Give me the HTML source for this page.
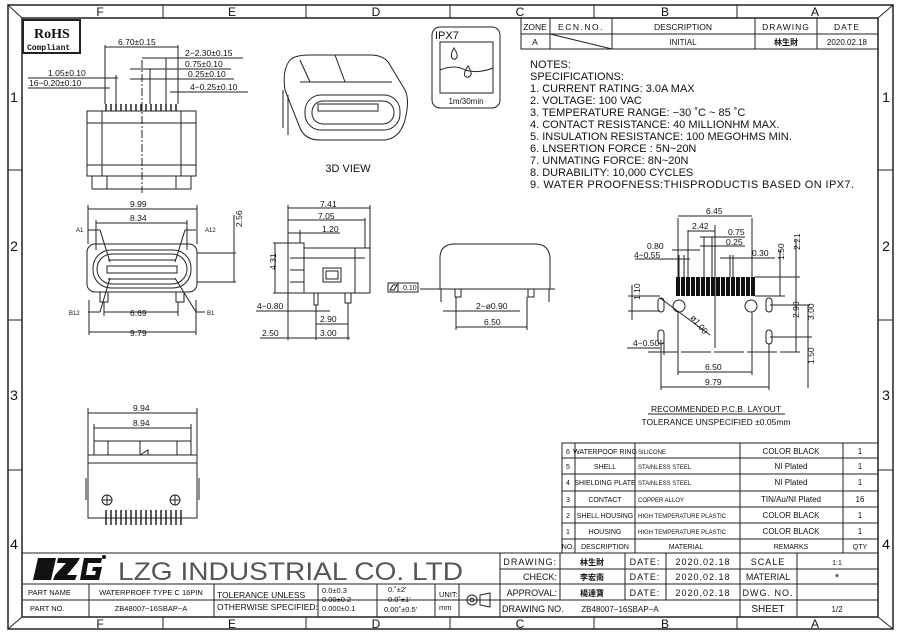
<!DOCTYPE html>
<html><head><meta charset="utf-8"><style>
html,body{margin:0;padding:0;background:#fff}
svg{display:block}
text{font-family:"Liberation Sans","Noto Sans CJK SC",sans-serif;fill:#111}
</style></head><body>
<svg width="900" height="634" viewBox="0 0 900 634" xmlns="http://www.w3.org/2000/svg">
<g fill="none" stroke="#222" stroke-width="1">
<rect x="8" y="5" width="885" height="624" stroke-width="1.5"/>
<rect x="22" y="18" width="856" height="599" stroke-width="1.5"/>
<line x1="8" y1="5" x2="22" y2="18"/><line x1="893" y1="5" x2="878" y2="18"/>
<line x1="8" y1="629" x2="22" y2="617"/><line x1="893" y1="629" x2="878" y2="617"/>
<line x1="163" y1="5" x2="163" y2="18"/><line x1="306" y1="5" x2="306" y2="18"/><line x1="450" y1="5" x2="450" y2="18"/><line x1="594" y1="5" x2="594" y2="18"/><line x1="737" y1="5" x2="737" y2="18"/>
<line x1="163" y1="617" x2="163" y2="629"/><line x1="306" y1="617" x2="306" y2="629"/><line x1="450" y1="617" x2="450" y2="629"/><line x1="594" y1="617" x2="594" y2="629"/><line x1="737" y1="617" x2="737" y2="629"/>
<line x1="8" y1="170" x2="22" y2="170"/><line x1="8" y1="320" x2="22" y2="320"/><line x1="8" y1="470" x2="22" y2="470"/>
<line x1="878" y1="170" x2="893" y2="170"/><line x1="878" y1="320" x2="893" y2="320"/><line x1="878" y1="470" x2="893" y2="470"/>
<rect x="23" y="20" width="57" height="33" stroke-width="2"/>
<rect x="521" y="18" width="357" height="31"/>
<line x1="521" y1="34" x2="878" y2="34"/>
<line x1="550" y1="18" x2="550" y2="49"/><line x1="612" y1="18" x2="612" y2="49"/><line x1="755" y1="18" x2="755" y2="49"/><line x1="817" y1="18" x2="817" y2="49"/>
<line x1="550" y1="34" x2="612" y2="49"/>
<rect x="432" y="27" width="68" height="81" rx="8"/>
<rect x="440" y="42" width="53" height="51"/>
<path d="M440 70 Q455 64 465 70 Q478 74 493 68"/>
<path d="M454 48 Q450 55 452 58 Q455 61 457 57 Q458 54 454 48Z"/>
<path d="M468 66 Q463 73 465 76 Q468 79 471 75 Q472 72 468 66Z"/>
<rect x="87" y="111" width="109" height="65"/>
<line x1="102" y1="111" x2="102" y2="176"/><line x1="181" y1="111" x2="181" y2="176"/>
<line x1="87" y1="123" x2="196" y2="123"/><line x1="87" y1="165" x2="196" y2="165"/>
<rect x="92" y="176" width="99" height="13"/>
<line x1="107" y1="176" x2="107" y2="189"/><line x1="176" y1="176" x2="176" y2="189"/>
<line x1="142" y1="60" x2="142" y2="193" stroke-dasharray="8 2 2 2"/>
<g stroke-width="1.5">
<line x1="106" y1="104" x2="106" y2="111"/><line x1="111" y1="104" x2="111" y2="111"/><line x1="116" y1="104" x2="116" y2="111"/><line x1="121" y1="104" x2="121" y2="111"/><line x1="126" y1="104" x2="126" y2="111"/><line x1="131" y1="104" x2="131" y2="111"/><line x1="136" y1="104" x2="136" y2="111"/><line x1="141" y1="104" x2="141" y2="111"/><line x1="146" y1="104" x2="146" y2="111"/><line x1="151" y1="104" x2="151" y2="111"/><line x1="156" y1="104" x2="156" y2="111"/><line x1="161" y1="104" x2="161" y2="111"/><line x1="166" y1="104" x2="166" y2="111"/><line x1="171" y1="104" x2="171" y2="111"/><line x1="176" y1="104" x2="176" y2="111"/>
</g>
<line x1="105" y1="45" x2="105" y2="104"/><line x1="178" y1="45" x2="178" y2="104"/>
<line x1="105" y1="47" x2="178" y2="47"/>
<line x1="142" y1="58" x2="243" y2="58"/><line x1="166" y1="58" x2="166" y2="104"/>
<line x1="130" y1="69" x2="231" y2="69"/><line x1="150" y1="69" x2="150" y2="104"/>
<line x1="130" y1="79" x2="234" y2="79"/>
<line x1="28" y1="78" x2="118" y2="78"/><line x1="116" y1="75" x2="116" y2="104"/>
<line x1="28" y1="88" x2="110" y2="88"/>
<line x1="170" y1="92" x2="248" y2="92"/>
<path d="M290 60 Q295 55 310 55 L370 55 Q385 55 390 65 L405 90 Q410 100 405 120 Q400 138 385 140 L320 140 Q305 140 300 128 L285 90 Q282 70 290 60Z"/>
<path d="M300 82 L392 82"/>
<rect x="305" y="95" width="95" height="35" rx="16"/>
<rect x="312" y="101" width="82" height="23" rx="11"/>
<rect x="318" y="104" width="60" height="7"/>
<line x1="283" y1="90" x2="283" y2="128"/><line x1="288" y1="95" x2="288" y2="135"/>
<line x1="300" y1="60" x2="310" y2="82"/><line x1="335" y1="55" x2="345" y2="82"/>
<rect x="87" y="244" width="110" height="48" rx="8"/>
<rect x="93" y="250" width="98" height="38" rx="18"/>
<rect x="97" y="254" width="90" height="30" rx="15"/>
<rect x="107" y="266" width="70" height="7"/>
<line x1="108" y1="260" x2="176" y2="260"/><line x1="108" y1="279" x2="176" y2="279"/>
<rect x="100" y="292" width="8" height="10"/><rect x="176" y="292" width="8" height="10"/>
<line x1="88" y1="205" x2="88" y2="244"/><line x1="197" y1="205" x2="197" y2="244"/><line x1="88" y1="209" x2="197" y2="209"/>
<line x1="96" y1="220" x2="96" y2="250"/><line x1="187" y1="220" x2="187" y2="250"/><line x1="96" y1="223" x2="187" y2="223"/>
<line x1="197" y1="253" x2="236" y2="253"/><line x1="197" y1="282" x2="236" y2="282"/><line x1="234" y1="215" x2="234" y2="282"/>
<line x1="104" y1="302" x2="104" y2="316"/><line x1="178" y1="302" x2="178" y2="316"/><line x1="104" y1="312" x2="178" y2="312"/>
<line x1="89" y1="300" x2="89" y2="335"/><line x1="196" y1="300" x2="196" y2="335"/><line x1="89" y1="332" x2="196" y2="332"/>
<line x1="88" y1="230" x2="100" y2="230"/><line x1="100" y1="230" x2="110" y2="262"/>
<line x1="196" y1="230" x2="185" y2="230"/><line x1="185" y1="230" x2="175" y2="262"/>
<line x1="88" y1="312" x2="100" y2="312"/><line x1="100" y1="312" x2="110" y2="278"/>
<line x1="196" y1="312" x2="205" y2="312"/><line x1="196" y1="312" x2="175" y2="278"/>
<rect x="288" y="243" width="16" height="50"/>
<rect x="304" y="248" width="66" height="45"/>
<line x1="304" y1="258" x2="365" y2="258"/><line x1="355" y1="248" x2="355" y2="293"/>
<rect x="323" y="268" width="18" height="14"/><rect x="326" y="271" width="12" height="8"/>
<line x1="290" y1="258" x2="304" y2="258"/><line x1="290" y1="270" x2="304" y2="270"/><line x1="290" y1="282" x2="304" y2="282"/>
<rect x="314" y="293" width="4" height="12"/><rect x="345" y="293" width="6" height="10"/>
<line x1="288" y1="205" x2="288" y2="243"/><line x1="370" y1="205" x2="370" y2="290"/><line x1="288" y1="208" x2="370" y2="208"/>
<line x1="365" y1="218" x2="365" y2="248"/><line x1="288" y1="220" x2="365" y2="220"/>
<line x1="300" y1="230" x2="300" y2="243"/><line x1="288" y1="233" x2="340" y2="233"/>
<line x1="273" y1="243" x2="288" y2="243"/><line x1="273" y1="293" x2="288" y2="293"/><line x1="275" y1="243" x2="275" y2="293"/>
<line x1="256" y1="311" x2="330" y2="311"/>
<line x1="316" y1="305" x2="316" y2="340"/><line x1="348" y1="303" x2="348" y2="340"/>
<line x1="316" y1="324" x2="348" y2="324"/><line x1="288" y1="293" x2="288" y2="340"/>
<line x1="260" y1="338" x2="350" y2="338"/>
<path d="M440 289 L440 258 Q440 244 455 244 L535 244 Q549 244 550 258 L550 289 Z"/>
<line x1="430" y1="289" x2="555" y2="289"/>
<line x1="441" y1="289" x2="441" y2="302"/><line x1="549" y1="289" x2="549" y2="302"/>
<rect x="455" y="289" width="6" height="8"/><rect x="528" y="289" width="6" height="8"/>
<line x1="456" y1="297" x2="456" y2="330"/><line x1="527" y1="297" x2="527" y2="330"/>
<line x1="443" y1="311" x2="520" y2="311"/><line x1="456" y1="327" x2="527" y2="327"/>
<line x1="420" y1="289" x2="440" y2="289"/>
<rect x="388" y="283" width="30" height="9"/><line x1="398" y1="283" x2="398" y2="292"/>
<path d="M390 290 L393 285 L397 285 L394 290Z"/>
<line x1="88" y1="408" x2="88" y2="455"/><line x1="197" y1="408" x2="197" y2="455"/><line x1="88" y1="413" x2="197" y2="413"/>
<line x1="94" y1="424" x2="94" y2="441"/><line x1="191" y1="424" x2="191" y2="441"/><line x1="94" y1="428" x2="191" y2="428"/>
<rect x="94" y="441" width="97" height="14"/>
<line x1="108" y1="441" x2="108" y2="455"/><line x1="140" y1="441" x2="140" y2="455"/><line x1="177" y1="441" x2="177" y2="455"/>
<path d="M140 455 L148 450 L148 455"/>
<rect x="88" y="455" width="109" height="8"/>
<rect x="88" y="463" width="109" height="55"/>
<circle cx="107" cy="500" r="5"/><circle cx="175" cy="500" r="5"/>
<line x1="102" y1="500" x2="112" y2="500"/><line x1="107" y1="495" x2="107" y2="505"/>
<line x1="170" y1="500" x2="180" y2="500"/><line x1="175" y1="495" x2="175" y2="505"/>
<line x1="86" y1="478" x2="86" y2="500"/><line x1="199" y1="478" x2="199" y2="500"/>
<g stroke-width="1.5">
<line x1="106" y1="510" x2="106" y2="525"/><line x1="111" y1="510" x2="111" y2="525"/><line x1="116" y1="510" x2="116" y2="525"/><line x1="121" y1="510" x2="121" y2="525"/><line x1="126" y1="510" x2="126" y2="525"/><line x1="131" y1="510" x2="131" y2="525"/><line x1="136" y1="510" x2="136" y2="525"/><line x1="141" y1="510" x2="141" y2="525"/><line x1="146" y1="510" x2="146" y2="525"/><line x1="151" y1="510" x2="151" y2="525"/><line x1="156" y1="510" x2="156" y2="525"/><line x1="161" y1="510" x2="161" y2="525"/><line x1="166" y1="510" x2="166" y2="525"/><line x1="171" y1="510" x2="171" y2="525"/><line x1="176" y1="510" x2="176" y2="525"/><line x1="181" y1="510" x2="181" y2="525"/>
</g>
<g fill="#111" stroke="none">
<rect x="676" y="277" width="4" height="19"/><rect x="681" y="277" width="4" height="19"/><rect x="686" y="277" width="4" height="19"/><rect x="691" y="277" width="4" height="19"/><rect x="696" y="277" width="4" height="19"/><rect x="701" y="277" width="4" height="19"/><rect x="706" y="277" width="4" height="19"/><rect x="711" y="277" width="4" height="19"/><rect x="716" y="277" width="4" height="19"/><rect x="721" y="277" width="4" height="19"/><rect x="726" y="277" width="4" height="19"/><rect x="731" y="277" width="4" height="19"/><rect x="736" y="277" width="4" height="19"/><rect x="741" y="277" width="4" height="19"/><rect x="746" y="277" width="4" height="19"/><rect x="751" y="277" width="4" height="19"/>
</g>
<circle cx="679" cy="306" r="6"/><circle cx="751" cy="306" r="6"/>
<rect x="658" y="298" width="6" height="14" rx="3"/><rect x="766" y="298" width="6" height="14" rx="3"/>
<rect x="658" y="330" width="6" height="14" rx="3"/><rect x="766" y="330" width="6" height="14" rx="3"/>
<line x1="715" y1="225" x2="715" y2="348"/>
<line x1="648" y1="352" x2="800" y2="352" stroke-dasharray="30 3"/>
<line x1="678" y1="218" x2="678" y2="277"/><line x1="752" y1="218" x2="752" y2="277"/><line x1="678" y1="216" x2="752" y2="216"/>
<line x1="688" y1="230" x2="688" y2="277"/><line x1="688" y1="231" x2="715" y2="231"/>
<line x1="700" y1="237" x2="745" y2="237"/><line x1="700" y1="246" x2="745" y2="246"/>
<line x1="704" y1="237" x2="704" y2="277"/><line x1="712" y1="237" x2="712" y2="277"/>
<line x1="672" y1="250" x2="700" y2="250"/><line x1="635" y1="259" x2="690" y2="259"/>
<line x1="679" y1="255" x2="679" y2="277"/><line x1="684" y1="255" x2="684" y2="277"/>
<line x1="720" y1="258" x2="775" y2="258"/><line x1="730" y1="255" x2="730" y2="277"/><line x1="733" y1="255" x2="733" y2="277"/>
<line x1="755" y1="277" x2="800" y2="277"/><line x1="780" y1="250" x2="780" y2="296"/><line x1="755" y1="296" x2="785" y2="296"/>
<line x1="796" y1="240" x2="796" y2="352"/>
<line x1="770" y1="305" x2="810" y2="305"/><line x1="808" y1="305" x2="808" y2="388"/>
<line x1="628" y1="296" x2="660" y2="296"/><line x1="628" y1="311" x2="660" y2="311"/><line x1="632" y1="285" x2="632" y2="320"/>
<line x1="770" y1="337" x2="812" y2="337"/>
<line x1="627" y1="348" x2="660" y2="348"/><line x1="661" y1="340" x2="661" y2="355"/><line x1="664" y1="340" x2="664" y2="355"/>
<line x1="660" y1="298" x2="710" y2="335"/>
<line x1="678" y1="312" x2="678" y2="375"/><line x1="752" y1="312" x2="752" y2="375"/><line x1="678" y1="372" x2="752" y2="372"/>
<line x1="661" y1="344" x2="661" y2="390"/><line x1="769" y1="344" x2="769" y2="390"/><line x1="661" y1="387" x2="769" y2="387"/>
<line x1="648" y1="414" x2="785" y2="414"/>
<rect x="562" y="443" width="316" height="110"/>
<line x1="562" y1="458" x2="878" y2="458"/><line x1="562" y1="474" x2="878" y2="474"/><line x1="562" y1="491" x2="878" y2="491"/><line x1="562" y1="507" x2="878" y2="507"/><line x1="562" y1="523" x2="878" y2="523"/><line x1="562" y1="539" x2="878" y2="539"/>
<line x1="575" y1="443" x2="575" y2="553"/><line x1="635" y1="443" x2="635" y2="553"/><line x1="740" y1="443" x2="740" y2="553"/><line x1="843" y1="443" x2="843" y2="553"/>
<line x1="22" y1="553" x2="878" y2="553"/>
<line x1="22" y1="584" x2="878" y2="584"/>
<line x1="22" y1="600" x2="878" y2="600"/>
<line x1="500" y1="569" x2="878" y2="569"/>
<line x1="500" y1="553" x2="500" y2="617"/>
<line x1="560" y1="553" x2="560" y2="600"/>
<line x1="625" y1="553" x2="625" y2="600"/>
<line x1="666" y1="553" x2="666" y2="600"/>
<line x1="740" y1="553" x2="740" y2="617"/>
<line x1="797" y1="553" x2="797" y2="617"/>
<line x1="89" y1="584" x2="89" y2="617"/><line x1="214" y1="584" x2="214" y2="617"/><line x1="318" y1="584" x2="318" y2="617"/><line x1="377" y1="584" x2="377" y2="617"/><line x1="435" y1="584" x2="435" y2="617"/><line x1="459" y1="584" x2="459" y2="617"/>
<circle cx="472" cy="600" r="5"/><circle cx="472" cy="600" r="2"/><line x1="464" y1="600" x2="480" y2="600"/><path d="M480 595 L490 593 L490 607 L480 605Z"/>
</g>
<g fill="#111">
<path d="M38 558 L56 558 L51 580 L33 580Z"/>
<path d="M58 558 L80 558 L77 563 L67 575 L77 575 L75 580 L53 580 L55 575 L66 563 L57 563Z"/>
<path d="M84 558 L102 558 L101 563 L88 563 L86 575 L95 575 L96 571 L92 571 L93 567 L102 567 L99 580 L80 580 L83 563Z"/>
</g>
<circle cx="104" cy="557" r="2" fill="#111"/>
<g font-size="12" text-anchor="middle">
<text x="100" y="16">F</text><text x="232" y="16">E</text><text x="376" y="16">D</text><text x="520" y="16">C</text><text x="665" y="16">B</text><text x="815" y="16">A</text>
<text x="100" y="628">F</text><text x="232" y="628">E</text><text x="376" y="628">D</text><text x="520" y="628">C</text><text x="665" y="628">B</text><text x="815" y="628">A</text>
<text x="14" y="102" font-size="14">1</text><text x="14" y="251" font-size="14">2</text><text x="14" y="400" font-size="14">3</text><text x="14" y="549" font-size="14">4</text>
<text x="886" y="102" font-size="14">1</text><text x="886" y="251" font-size="14">2</text><text x="886" y="400" font-size="14">3</text><text x="886" y="549" font-size="14">4</text>
</g>
<text x="34" y="38" font-size="14" font-weight="bold" style="font-family:'Liberation Serif',serif">RoHS</text>
<text x="27" y="50" font-size="8" font-weight="bold" style="font-family:'Liberation Mono',monospace">Compliant</text>
<g font-size="8.5" text-anchor="middle">
<text x="535" y="30">ZONE</text><text x="581" y="30" letter-spacing="1.5">ECN.NO.</text><text x="683" y="30">DESCRIPTION</text><text x="786" y="30" letter-spacing="1">DRAWING</text><text x="847" y="30" letter-spacing="1">DATE</text>
<text x="535" y="45">A</text><text x="683" y="45" font-size="8">INITIAL</text><text x="786" y="45" font-weight="bold" font-size="8">林生財</text><text x="847" y="45" font-size="8">2020.02.18</text>
</g>
<text x="435" y="39" font-size="11">IPX7</text>
<text x="466" y="104" font-size="8" text-anchor="middle">1m/30min</text>
<g font-size="11">
<text x="530" y="68">NOTES:</text>
<text x="530" y="80">SPECIFICATIONS:</text>
<text x="530" y="92">1. CURRENT RATING: 3.0A MAX</text>
<text x="530" y="104">2. VOLTAGE: 100 VAC</text>
<text x="530" y="116">3. TEMPERATURE RANGE: −30 ˚C ~ 85 ˚C</text>
<text x="530" y="128">4. CONTACT RESISTANCE: 40 MILLIONHM MAX.</text>
<text x="530" y="140">5. INSULATION RESISTANCE: 100 MEGOHMS MIN.</text>
<text x="530" y="152">6. LNSERTION FORCE : 5N~20N</text>
<text x="530" y="164">7. UNMATING FORCE: 8N~20N</text>
<text x="530" y="176">8. DURABILITY:  10,000 CYCLES</text>
<text x="530" y="188" textLength="324" lengthAdjust="spacing">9. WATER PROOFNESS:THISPRODUCTIS BASED ON IPX7.</text>
</g>
<text x="348" y="172" font-size="11" text-anchor="middle">3D VIEW</text>
<g font-size="8.5">
<text x="118" y="45">6.70±0.15</text>
<text x="185" y="56">2−2.30±0.15</text>
<text x="185" y="67">0.75±0.10</text>
<text x="188" y="77">0.25±0.10</text>
<text x="190" y="90">4−0.25±0.10</text>
<text x="48" y="76">1.05±0.10</text>
<text x="29" y="86">16−0.20±0.10</text>
<text x="130" y="207">9.99</text><text x="130" y="221">8.34</text>
<text x="130" y="316">6.69</text><text x="130" y="336">9.79</text>
<text x="249" y="238" transform="rotate(-90 240 236)">2.56</text>
<text x="76" y="232" font-size="6">A1</text><text x="205" y="232" font-size="6">A12</text>
<text x="69" y="315" font-size="6">B12</text><text x="207" y="315" font-size="6">B1</text>
<text x="320" y="207">7.41</text><text x="318" y="219">7.05</text><text x="322" y="232">1.20</text>
<text x="271" y="275" transform="rotate(-90 271 270)">4.31</text>
<text x="257" y="309">4−0.80</text><text x="320" y="322">2.90</text><text x="320" y="336">3.00</text><text x="262" y="336">2.50</text>
<text x="403" y="290" font-size="7">0.10</text>
<text x="476" y="309">2−ø0.90</text><text x="484" y="325">6.50</text>
<text x="133" y="411">9.94</text><text x="133" y="426">8.94</text>
<text x="706" y="214">6.45</text><text x="692" y="229">2.42</text><text x="728" y="235">0.75</text><text x="726" y="245">0.25</text>
<text x="647" y="249">0.80</text><text x="634" y="258">4−0.55</text><text x="752" y="256">0.30</text>
<text x="633" y="346">4−0.50</text>
<text x="705" y="370">6.50</text><text x="705" y="385">9.79</text>
<text x="628" y="312" transform="rotate(-90 628 300)">1.10</text>
<text x="778" y="266" transform="rotate(-90 778 260)">1.50</text>
<text x="794" y="256" transform="rotate(-90 794 250)">2.21</text>
<text x="793" y="324" transform="rotate(-90 793 318)">2.90</text>
<text x="806" y="328" transform="rotate(-90 806 320)">3.00</text>
<text x="806" y="372" transform="rotate(-90 806 364)">1.50</text>
<text x="690" y="318" transform="rotate(50 690 318)">ø1.00</text>
<text x="716" y="412" text-anchor="middle">RECOMMENDED   P.C.B.  LAYOUT</text>
<text x="716" y="425" text-anchor="middle">TOLERANCE  UNSPECIFIED  ±0.05mm</text>
</g>
<g font-size="7" text-anchor="middle">
<text x="568" y="454">6</text><text x="568" y="469">5</text><text x="568" y="485">4</text><text x="568" y="502">3</text><text x="568" y="518">2</text><text x="568" y="534">1</text><text x="568" y="549">NO.</text>
<text x="605" y="454">WATERPOOF RING</text><text x="605" y="469">SHELL</text><text x="605" y="485">SHIELDING PLATE</text><text x="605" y="502">CONTACT</text><text x="605" y="518">SHELL HOUSING</text><text x="605" y="534">HOUSING</text><text x="605" y="549">DESCRIPTION</text>
<text x="686" y="549">MATERIAL</text><text x="791" y="549">REMARKS</text><text x="860" y="549">QTY</text>
</g>
<g font-size="6">
<text x="638" y="454">SILICONE</text><text x="638" y="469">STAINLESS STEEL</text><text x="638" y="485">STAINLESS STEEL</text><text x="638" y="502">COPPER ALLOY</text><text x="638" y="518">HIGH TEMPERATURE PLASTIC</text><text x="638" y="534">HIGH TEMPERATURE PLASTIC</text>
</g>
<g font-size="8" text-anchor="middle">
<text x="791" y="454">COLOR BLACK</text><text x="791" y="469">NI  Plated</text><text x="791" y="485">NI  Plated</text><text x="791" y="502">TIN/Au/NI Plated</text><text x="791" y="518">COLOR BLACK</text><text x="791" y="534">COLOR BLACK</text>
<text x="860" y="454">1</text><text x="860" y="469">1</text><text x="860" y="485">1</text><text x="860" y="502">16</text><text x="860" y="518">1</text><text x="860" y="534">1</text>
</g>
<text x="118" y="580" font-size="25" textLength="345" lengthAdjust="spacingAndGlyphs" style="fill:#555">LZG INDUSTRIAL CO. LTD</text>
<g font-size="9">
<text x="557" y="565" text-anchor="end" letter-spacing="1">DRAWING:</text>
<text x="557" y="580" text-anchor="end">CHECK:</text>
<text x="557" y="596" text-anchor="end">APPROVAL:</text>
<text x="502" y="612">DRAWING NO.</text>
<text x="592" y="565" text-anchor="middle" font-weight="bold" font-size="8">林生財</text>
<text x="592" y="580" text-anchor="middle" font-weight="bold" font-size="8">李宏南</text>
<text x="592" y="596" text-anchor="middle" font-weight="bold" font-size="8">楊達寶</text>
<text x="645" y="565" text-anchor="middle" letter-spacing="1">DATE:</text>
<text x="645" y="580" text-anchor="middle" letter-spacing="1">DATE:</text>
<text x="645" y="596" text-anchor="middle" letter-spacing="1">DATE:</text>
<text x="703" y="565" text-anchor="middle" letter-spacing="1">2020.02.18</text>
<text x="703" y="580" text-anchor="middle" letter-spacing="1">2020.02.18</text>
<text x="703" y="596" text-anchor="middle" letter-spacing="1">2020.02.18</text>
<text x="620" y="612" text-anchor="middle" font-size="8">ZB48007−16SBAP−A</text>
<text x="768" y="565" text-anchor="middle" letter-spacing="1">SCALE</text>
<text x="768" y="580" text-anchor="middle">MATERIAL</text>
<text x="768" y="596" text-anchor="middle" letter-spacing="1">DWG. NO.</text>
<text x="768" y="612" text-anchor="middle" font-size="10">SHEET</text>
<text x="837" y="565" text-anchor="middle" font-size="7">1:1</text>
<text x="837" y="581" text-anchor="middle" font-size="11">*</text>
<text x="837" y="612" text-anchor="middle" font-size="8">1/2</text>
</g>
<g font-size="7.5">
<text x="28" y="595">PART NAME</text><text x="30" y="611">PART NO.</text>
<text x="151" y="595" text-anchor="middle">WATERPROFF TYPE C 16PIN</text>
<text x="151" y="611" text-anchor="middle">ZB48007−16SBAP−A</text>
<text x="217" y="598" font-size="8.5">TOLERANCE UNLESS</text>
<text x="217" y="610" font-size="8.5">OTHERWISE SPECIFIED:</text>
<text x="322" y="593">0.0±0.3</text><text x="322" y="602">0.00±0.2</text><text x="322" y="611">0.000±0.1</text>
<text x="388" y="592">0.˚±2'</text><text x="388" y="602">0.0˚±1'</text><text x="384" y="612">0.00˚±0.5'</text>
<text x="439" y="597">UNIT:</text><text x="439" y="610">mm</text>
</g>
</svg>
</body></html>
